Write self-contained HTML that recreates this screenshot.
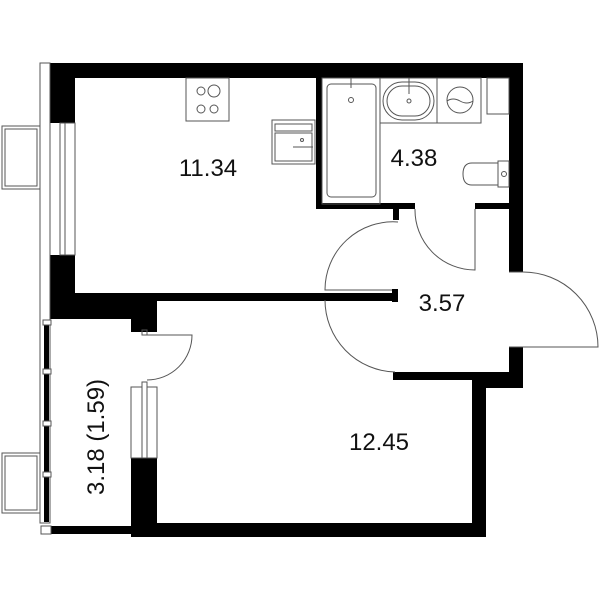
<!DOCTYPE html>
<html><head><style>
html,body{margin:0;padding:0;background:#fff;}
svg{display:block;}
text{font-family:"Liberation Sans",sans-serif;fill:#111;}
</style></head><body>
<svg width="600" height="600" viewBox="0 0 600 600" xmlns="http://www.w3.org/2000/svg">
<g fill="#000">
  <!-- top wall -->
  <rect x="50" y="63" width="473" height="15"/>
  <!-- left wall upper -->
  <rect x="50" y="63" width="25" height="60"/>
  <rect x="50" y="255" width="25" height="64"/>
  <!-- under kitchen -->
  <rect x="50" y="293" width="107" height="26"/>
  <rect x="131" y="293" width="26" height="39"/>
  <rect x="157" y="293" width="241" height="8"/>
  <rect x="392" y="289" width="6" height="13"/>
  <!-- bathroom left wall -->
  <rect x="316" y="63" width="6" height="146"/>
  <!-- bathroom bottom wall -->
  <rect x="316" y="203" width="99" height="6"/>
  <rect x="393" y="203" width="6" height="17"/>
  <rect x="475" y="203" width="48" height="6"/>
  <!-- right outer wall -->
  <rect x="509" y="63" width="14" height="209"/>
  <rect x="509" y="347" width="14" height="41"/>
  <!-- hall bottom -->
  <rect x="393" y="372" width="130" height="8"/>
  <rect x="472" y="372" width="51" height="16"/>
  <!-- bedroom right wall -->
  <rect x="472" y="372" width="14" height="165"/>
  <!-- bedroom bottom -->
  <rect x="131" y="523" width="355" height="14"/>
  <rect x="50" y="526" width="81" height="8"/>
  <!-- pillar left of bedroom -->
  <rect x="131" y="458" width="26" height="79"/>
  <!-- loggia black facade segments -->
  <rect x="44" y="322" width="5" height="200"/>
</g>
<g fill="none" stroke="#555" stroke-width="1">
  <!-- facade thin lines -->
  <rect x="40" y="63" width="10" height="460"/>
  <!-- kitchen window -->
  <rect x="60" y="123" width="15" height="132"/>
  <line x1="65" y1="123" x2="65" y2="255"/>
  <rect x="2" y="126" width="38" height="63"/>
  <rect x="5" y="129" width="32" height="57"/>
  <!-- lower balcony -->
  <rect x="2" y="453" width="38" height="60"/>
  <rect x="5" y="456" width="32" height="54"/>
  <!-- loggia mullions -->
  <rect x="43" y="320" width="8" height="5" fill="#fff"/>
  <rect x="43" y="369" width="8" height="5" fill="#fff"/>
  <rect x="43" y="421" width="8" height="5" fill="#fff"/>
  <rect x="43" y="472" width="8" height="5" fill="#fff"/>
  <rect x="41" y="526" width="10" height="8" fill="#fff"/>
  <!-- stove -->
  <rect x="186" y="78" width="43" height="43"/>
  <circle cx="201" cy="91" r="4"/><circle cx="214" cy="91" r="6"/>
  <circle cx="201" cy="109" r="4"/><circle cx="214" cy="109" r="4"/>
  <!-- kitchen sink -->
  <rect x="272" y="120" width="43" height="44"/>
  <rect x="275" y="124" width="37" height="7"/>
  <rect x="275" y="133" width="37" height="28"/>
  <line x1="293" y1="147" x2="313" y2="147"/>
  <circle cx="302" cy="140" r="1.5"/>
  <!-- tub -->
  <rect x="322" y="78" width="58" height="126"/>
  <rect x="327" y="84" width="49" height="113" rx="4"/>
  <line x1="351" y1="78" x2="351" y2="88"/>
  <circle cx="351" cy="100" r="2.5"/>
  <!-- sink -->
  <rect x="380" y="78" width="57" height="45"/>
  <rect x="383" y="82" width="51" height="38" rx="19"/>
  <rect x="387" y="86" width="43" height="30" rx="15"/>
  <line x1="409" y1="78" x2="409" y2="94"/>
  <circle cx="409" cy="101" r="2"/>
  <!-- washer -->
  <rect x="437" y="78" width="44" height="45"/>
  <circle cx="460" cy="100" r="13"/>
  <path d="M447 101 q6 -4 13 0 t13 0"/>
  <rect x="487" y="78" width="22" height="36"/>
  <!-- toilet -->
  <rect x="498" y="161" width="11" height="26"/>
  <circle cx="504" cy="174" r="2.5"/>
  <path d="M498 163 H472 q-9 0 -9 11 q0 11 9 11 H498"/>
  <!-- hall doors -->
  <path d="M398 222 A68 68 0 0 0 325 290 H392"/>
  <path d="M325 300 A72 72 0 0 0 395 372"/>
  <path d="M415 209 A60 60 0 0 0 475 270 V209"/>
  <path d="M509 272 H523 A75 75 0 0 1 598 347 H509"/>
  <!-- bedroom door -->
  <rect x="142" y="330" width="5" height="5"/>
  <path d="M147 335 H192 A45 45 0 0 1 147 380"/>
  <rect x="131" y="387" width="26" height="71"/>
  <rect x="142" y="382" width="5" height="76" fill="#fff"/>
</g>
<text x="208" y="176" font-size="24" text-anchor="middle">11.34</text>
<text x="414" y="166" font-size="24" text-anchor="middle">4.38</text>
<text x="442" y="311" font-size="24" text-anchor="middle">3.57</text>
<text x="379" y="450" font-size="24" text-anchor="middle">12.45</text>
<text transform="translate(104,437) rotate(-90)" font-size="24" text-anchor="middle">3.18 (1.59)</text>
</svg>
</body></html>
